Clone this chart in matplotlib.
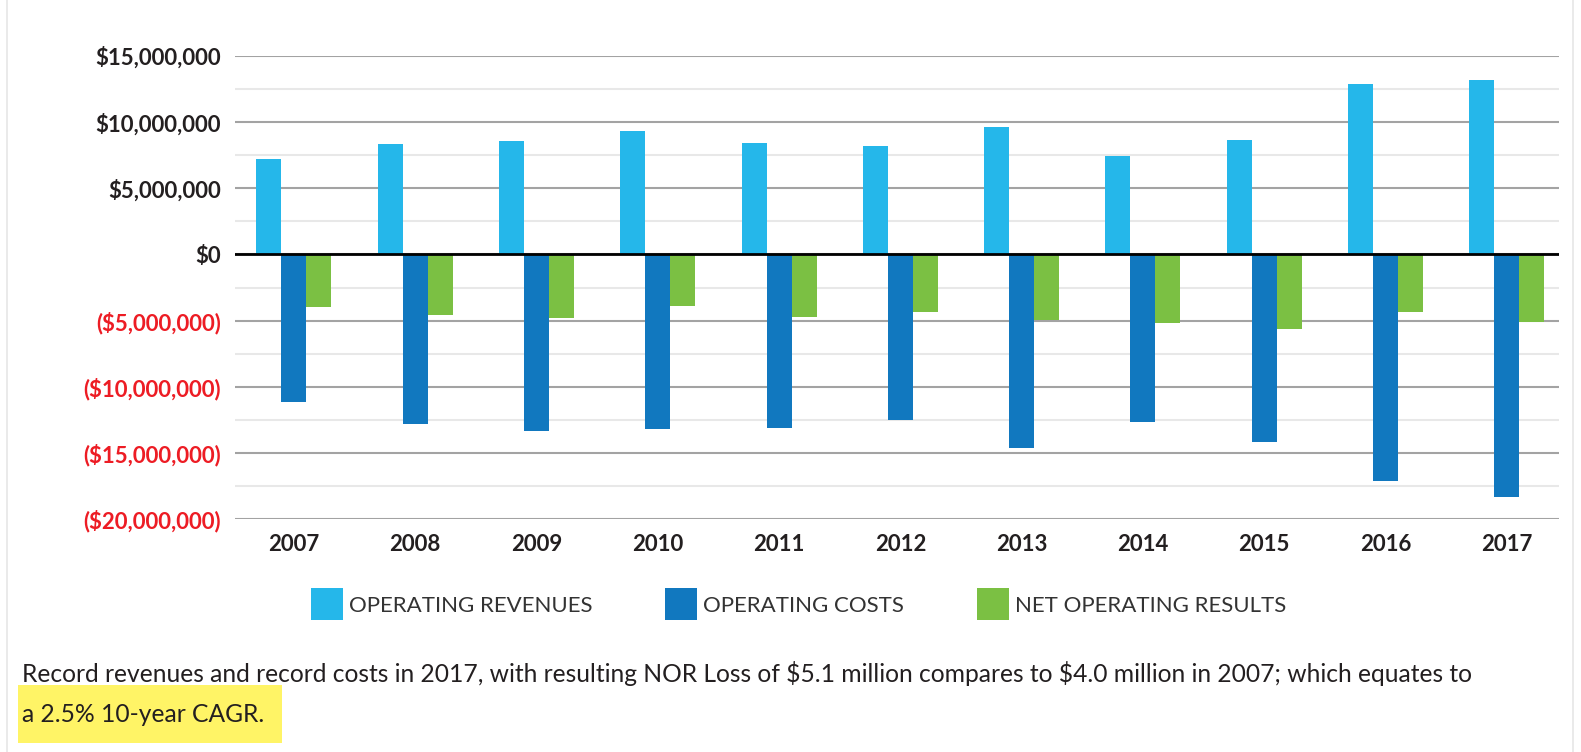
import matplotlib
matplotlib.use("Agg")
import matplotlib.pyplot as plt
from matplotlib.lines import Line2D
from matplotlib.patches import Rectangle
from matplotlib.ticker import MultipleLocator, FixedLocator
import numpy as np

# ---------------------------------------------------------------------
# Data (in $ millions)
# ---------------------------------------------------------------------

years = ["2007", "2008", "2009", "2010", "2011", "2012", "2013", "2014", "2015", "2016", "2017"]
revenues = [7.23, 8.37, 8.60, 9.35, 8.44, 8.22, 9.65, 7.46, 8.67, 12.90, 13.20]
costs = [-11.15, -12.85, -13.33, -13.17, -13.10, -12.50, -14.60, -12.70, -14.20, -17.15, -18.37]
net_results = [-4.00, -4.56, -4.78, -3.88, -4.71, -4.33, -4.98, -5.20, -5.60, -4.38, -5.10]

series_names = ["OPERATING REVENUES", "OPERATING COSTS", "NET OPERATING RESULTS"]
series_colors = ["#25b7ea", "#1178bf", "#7bc043"]

y_ticks = [15, 10, 5, 0, -5, -10, -15, -20]
y_labels = ["$15,000,000", "$10,000,000", "$5,000,000", "$0",
            "($5,000,000)", "($10,000,000)", "($15,000,000)", "($20,000,000)"]

caption_1 = ("Record revenues and record costs in 2017, with resulting NOR Loss of $5.1 million "
             "compares to $4.0 million in 2007; which equates to")
caption_2 = "a 2.5% 10-year CAGR."

DARK = "#231f20"
RED = "#ed1c24"

plt.rcParams["font.family"] = ["Lato", "DejaVu Sans"]
plt.rcParams["text.parse_math"] = False

W, H = 1581, 752
fig = plt.figure(figsize=(W / 100, H / 100), dpi=100)
fig.patch.set_facecolor("white")

ax = fig.add_axes([235 / W, 1 - 519 / H, (1559 - 235) / W, (519 - 56) / H])

x = np.arange(len(years))
bw = 0.206
for i, (vals, col) in enumerate(zip([revenues, costs, net_results], series_colors)):
    ax.bar(x + (i - 1) * bw, vals, width=bw, color=col, zorder=3, linewidth=0)

ax.set_xlim(-0.486, 10.43)
ax.set_ylim(-20, 15)

# gridlines: major every 5M, light minor every 2.5M
ax.yaxis.set_major_locator(FixedLocator(y_ticks))
ax.yaxis.set_minor_locator(MultipleLocator(2.5))
ax.grid(axis="y", which="major", color="#a3a3a3", linewidth=1.5, zorder=1)
ax.grid(axis="y", which="minor", color="#e8e8e8", linewidth=1.5, zorder=1)
ax.axhline(0, color="black", linewidth=2, zorder=4)

for s in ax.spines.values():
    s.set_visible(False)
ax.tick_params(axis="both", which="both", length=0)

ax.set_yticklabels(y_labels)
for lbl, v in zip(ax.get_yticklabels(), y_ticks):
    lbl.set_fontsize(16)
    lbl.set_fontweight("bold")
    lbl.set_color(RED if v < 0 else DARK)
ax.tick_params(axis="y", pad=10)

ax.set_xticks(x)
ax.set_xticklabels(years, fontsize=16, fontweight="bold", color=DARK)
ax.tick_params(axis="x", pad=11)

# legend with square swatches
handles = [Line2D([], [], marker="s", linestyle="none", markersize=23,
                  markerfacecolor=c, markeredgewidth=0) for c in series_colors]
fig.legend(handles, series_names, loc="center", ncol=3,
           bbox_to_anchor=(801 / W, 1 - 606 / H), frameon=False,
           prop={"size": 16}, labelcolor="#333333",
           handlelength=1.0, handletextpad=0.5, columnspacing=3.5)

# caption with highlighted second line
fig.patches.append(Rectangle((18 / W, 1 - 743 / H), (282 - 18) / W, (743 - 685) / H,
                             transform=fig.transFigure, facecolor="#fff466",
                             edgecolor="none", zorder=0))
fig.text(22 / W, 1 - 673 / H, caption_1, fontsize=17.7, color=DARK, va="center", ha="left")
fig.text(22 / W, 1 - 714 / H, caption_2, fontsize=17.7, color=DARK, va="center", ha="left")

# page border lines
for px in (7, 1573):
    fig.add_artist(Line2D([px / W, px / W], [0, 1], transform=fig.transFigure,
                          color="#e6e6e6", linewidth=1.2))

fig.savefig("out.png", dpi=100, facecolor="white")
